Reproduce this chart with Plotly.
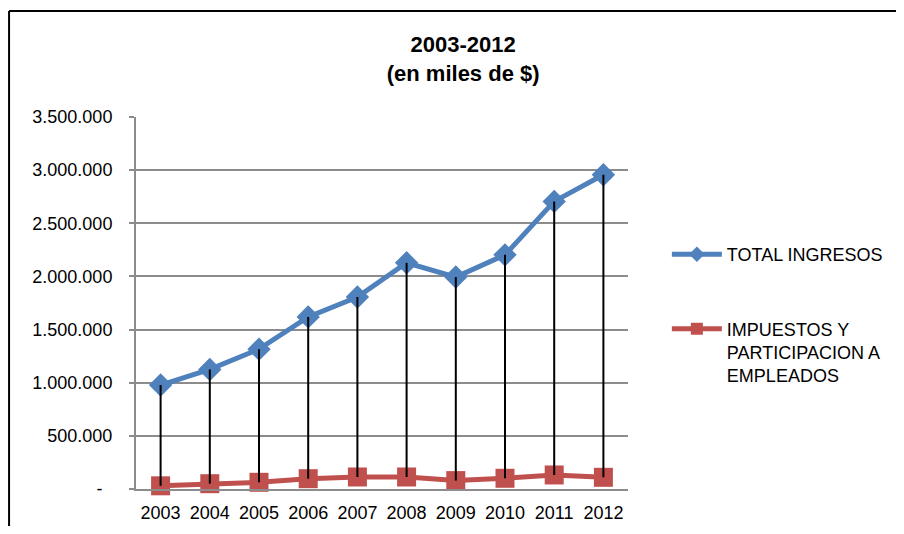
import plotly.graph_objects as go

# datos (en miles de $)
anios = ["2003", "2004", "2005", "2006", "2007", "2008", "2009", "2010", "2011", "2012"]
total_ingresos = [978000, 1125000, 1316000, 1619000, 1806000, 2128000, 1994000, 2203000, 2706000, 2956000]
impuestos = [30000, 50000, 63000, 97000, 113000, 113000, 79000, 101000, 132000, 110000]

ticks_y = [0, 500000, 1000000, 1500000, 2000000, 2500000, 3000000, 3500000]
etiquetas_y = ["-\u00a0\u00a0", "500.000", "1.000.000", "1.500.000", "2.000.000", "2.500.000", "3.000.000", "3.500.000"]

FUENTE = "Liberation Sans, Arial, sans-serif"
AZUL = "#4F81BD"
ROJO = "#C0504D"
GRIS = "#8C8C8C"

# lineas verticales entre las dos series (high-low lines de Excel)
x_lineas = []
y_lineas = []
for a, hi, lo in zip(anios, total_ingresos, impuestos):
    x_lineas += [a, a, None]
    y_lineas += [hi, lo, None]

serie_1 = go.Scatter(x=anios, y=total_ingresos, mode="lines+markers", name="TOTAL INGRESOS",
                     line=dict(color=AZUL, width=5), legendgroup="a",
                     marker=dict(symbol="diamond", size=18, color=AZUL), cliponaxis=False)
serie_2 = go.Scatter(x=anios, y=impuestos, mode="lines+markers",
                     name="IMPUESTOS Y<br>PARTICIPACION A<br>EMPLEADOS",
                     line=dict(color=ROJO, width=5), legendgroup="b",
                     marker=dict(symbol="square", size=19, color=ROJO), cliponaxis=False)
lineas = go.Scatter(x=x_lineas, y=y_lineas, mode="lines", showlegend=False,
                    line=dict(color="black", width=2), hoverinfo="skip", cliponaxis=False)

fig = go.Figure(data=[serie_1, serie_2, lineas])

# marco exterior del grafico (izquierda y arriba)
fig.add_shape(type="line", xref="paper", yref="paper", x0=-0.258, x1=-0.258, y0=1.285, y1=-0.3,
              line=dict(color="black", width=2))
fig.add_shape(type="line", xref="paper", yref="paper", x0=-0.258, x1=1.7, y0=1.285, y1=1.285,
              line=dict(color="black", width=2))

# la pagina tiene 8px de margen, por eso la figura es algo menor que la ventana
fig.update_layout(
    width=896, height=518,
    margin=dict(l=128, r=276, t=109, b=37),
    paper_bgcolor="white", plot_bgcolor="white",
    font=dict(family=FUENTE, size=18, color="black"),
    title=dict(text="<b>2003-2012<br>(en miles de $)</b>", x=0.508, xref="container",
               xanchor="center", y=0.915, yref="container", yanchor="top",
               font=dict(family=FUENTE, size=22, color="black")),
    legend=dict(x=1.079, y=0.68, xanchor="left", yanchor="top", traceorder="grouped",
                tracegroupgap=48, valign="top", itemwidth=50, itemsizing="constant",
                font=dict(family=FUENTE, size=18, color="black")),
    showlegend=True,
)

fig.update_xaxes(type="category", range=[-0.5, 9.5], showgrid=False, showline=True,
                 linecolor=GRIS, linewidth=2, ticks="", zeroline=False, ticklabelstandoff=6,
                 automargin=False, tickfont=dict(family=FUENTE, size=18))
fig.update_yaxes(range=[0, 3500000], tickvals=ticks_y, ticktext=etiquetas_y,
                 showgrid=True, gridcolor=GRIS, gridwidth=2, showline=True,
                 linecolor=GRIS, linewidth=2, ticks="outside", ticklen=5, tickcolor=GRIS,
                 tickwidth=2, zeroline=False, ticklabelstandoff=13, automargin=False,
                 tickfont=dict(family=FUENTE, size=18))

fig.write_html("out.html")
